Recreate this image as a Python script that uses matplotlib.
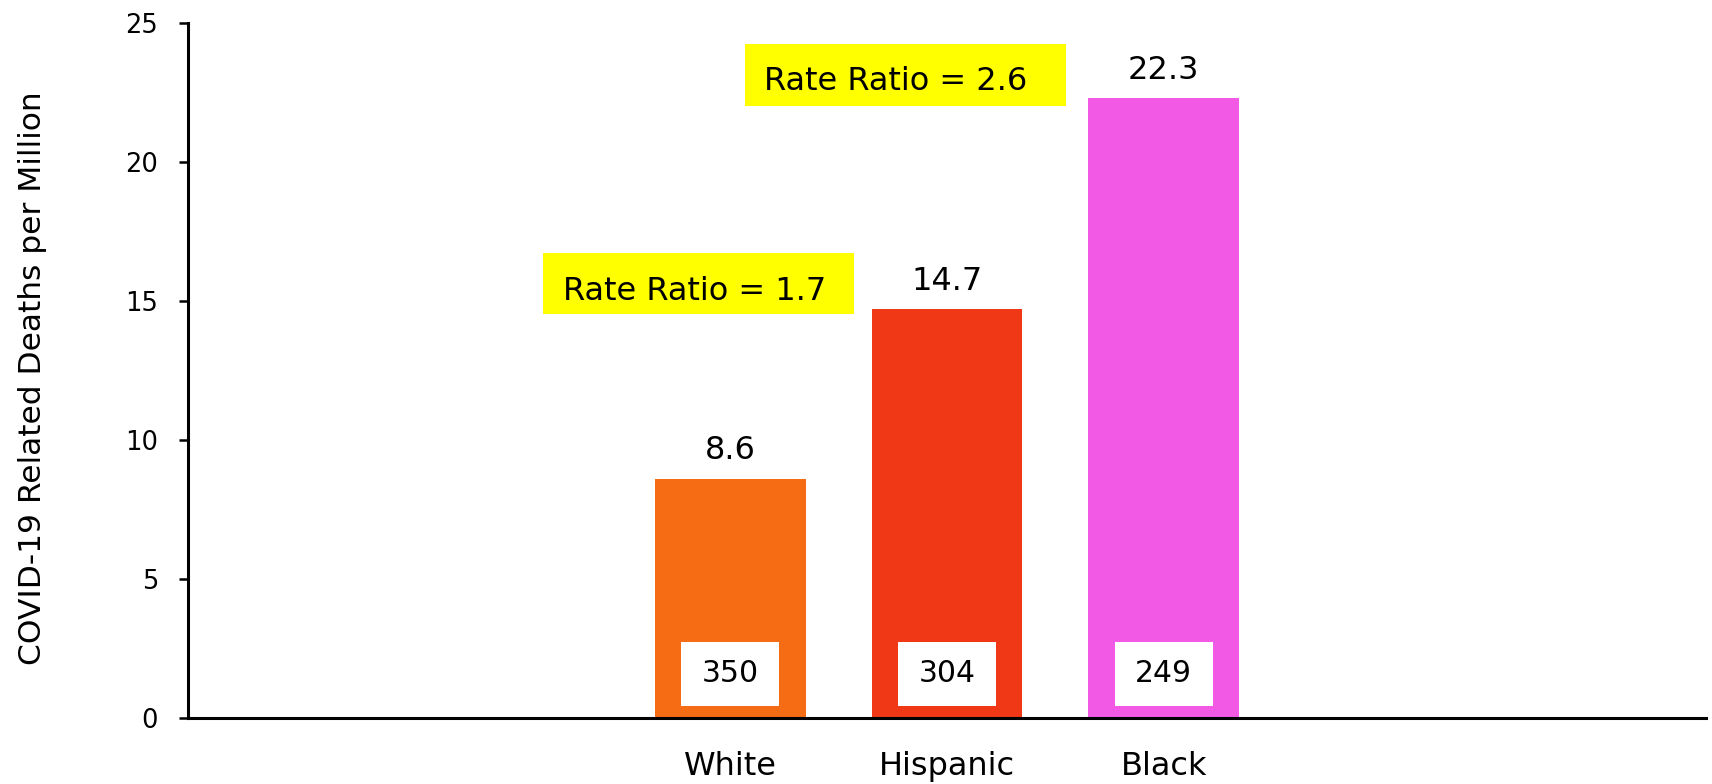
import matplotlib
matplotlib.use("Agg")
import matplotlib.pyplot as plt
from matplotlib.patches import Rectangle

# ---- data ----
categories = ["White", "Hispanic", "Black"]
rates = [8.6, 14.7, 22.3]
rate_labels = ["8.6", "14.7", "22.3"]
deaths = [350, 304, 249]
colors = ["#F56C15", "#F03816", "#F25AE6"]
ratio_texts = ["Rate Ratio = 1.7", "Rate Ratio = 2.6"]
yticks = [0, 5, 10, 15, 20, 25]

plt.rcParams['font.family'] = ['DejaVu Sans']

fig = plt.figure(figsize=(17.12, 7.84), dpi=100)
ax = fig.add_axes([188/1712, 1-718/784, (1706-188)/1712, (718-23)/784])

x = list(range(len(categories)))
bar_w = 0.696
ax.bar(x, rates, width=bar_w, color=colors, zorder=2)

ax.set_xlim(-2.5, 4.5)
ax.set_ylim(0, 25)
ax.set_yticks(yticks)
ax.set_yticklabels([str(t) for t in yticks], fontsize=18.5)
ax.set_xticks(x)
ax.set_xticklabels(categories, fontsize=23)
ax.tick_params(axis='x', length=0, pad=24)
ax.tick_params(axis='y', length=6.5, width=1.8, pad=15, direction='out')

for s in ['top', 'right']:
    ax.spines[s].set_visible(False)
for s in ['left', 'bottom']:
    ax.spines[s].set_linewidth(2.2)
    ax.spines[s].set_color('black')

# value labels above bars
for xi, v, lab in zip(x, rates, rate_labels):
    ax.annotate(lab, (xi, v), xytext=(0, 14), textcoords='offset points',
                ha='center', va='baseline', fontsize=23, color='black')

# white count boxes inside bars
box_w = 0.455
for xi, d in zip(x, deaths):
    ax.add_patch(Rectangle((xi - box_w/2, 0.42), box_w, 2.33,
                           facecolor='white', edgecolor='none', zorder=3))
    ax.text(xi, 0.42 + 2.33/2, str(d), ha='center', va='center',
            fontsize=21.5, color='black', zorder=4)

# yellow rate ratio boxes
ratio_boxes = [(-0.863, 14.53, 1.434, 2.2), (0.069, 22.0, 1.48, 2.25)]
ratio_text_pos = [(-0.771, 15.04), (0.156, 22.59)]
for (bx, by, bw, bh), (tx, ty), t in zip(ratio_boxes, ratio_text_pos, ratio_texts):
    ax.add_patch(Rectangle((bx, by), bw, bh, facecolor='#FFFF00',
                           edgecolor='none', zorder=3, clip_on=False))
    ax.text(tx, ty, t, ha='left', va='baseline', fontsize=23, zorder=4)

fig.text(33/1712, 1-378/784, "COVID-19 Related Deaths per Million",
         rotation=90, ha='center', va='center', fontsize=22.5)

fig.savefig("out.png", dpi=100, facecolor='white')
